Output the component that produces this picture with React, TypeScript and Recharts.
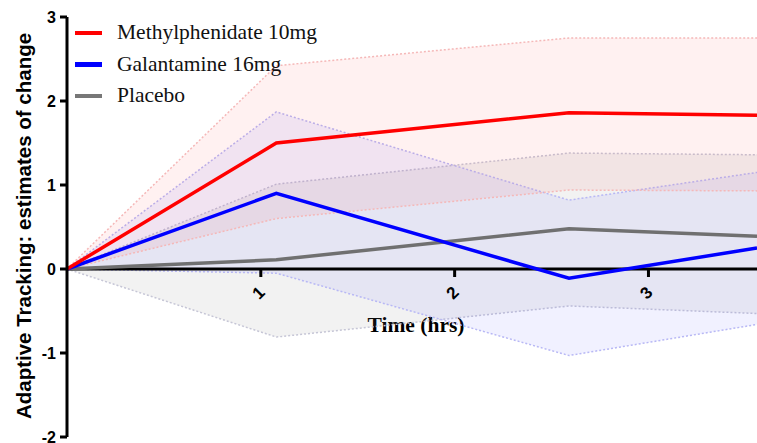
import React from "react";
import { ComposedChart, Line, Area, XAxis, YAxis, ReferenceLine, ReferenceDot } from "recharts";

const times = [0, 1.08, 2.59, 3.56];

const mphMean = [0, 1.5, 1.86, 1.83];
const mphLow = [0, 0.6, 0.94, 0.93];
const mphHigh = [0, 2.42, 2.75, 2.75];

const galMean = [0, 0.9, -0.11, 0.25];
const galLow = [0, -0.05, -1.03, -0.66];
const galHigh = [0, 1.87, 0.82, 1.15];

const plaMean = [0, 0.11, 0.48, 0.39];
const plaLow = [0, -0.81, -0.44, -0.53];
const plaHigh = [0, 1.01, 1.38, 1.36];

const xTicks = [1, 2, 3];
const yTicks = [-2, -1, 0, 1, 2, 3];

const legendItems = [
  { name: "Methylphenidate 10mg", color: "#ff0000" },
  { name: "Galantamine 16mg", color: "#0000ff" },
  { name: "Placebo", color: "#777777" },
];

const data = times.map((t, i) => ({
  time: t,
  mph: mphMean[i],
  mphBand: [mphLow[i], mphHigh[i]],
  gal: galMean[i],
  galBand: [galLow[i], galHigh[i]],
  pla: plaMean[i],
  plaBand: [plaLow[i], plaHigh[i]],
}));

const sans = "'Liberation Sans', Arial, sans-serif";
const serif = "'Liberation Serif', 'Times New Roman', serif";

const XTick = ({ cx, cy, label }: any) => {
  if (cx == null || cy == null) return null;
  return (
    <g>
      <line x1={cx} y1={cy} x2={cx} y2={cy + 8} stroke="#000" strokeWidth={3} />
      <text
        x={cx - 2}
        y={cy + 24}
        transform={`rotate(-45, ${cx - 2}, ${cy + 24})`}
        textAnchor="middle"
        dominantBaseline="central"
        fontFamily={sans}
        fontWeight="bold"
        fontSize={17}
        fill="#000"
      >
        {label}
      </text>
    </g>
  );
};

const LegendBox = () => (
  <div style={{ position: "absolute", left: 75, top: 17, fontFamily: serif, fontSize: 21.5, color: "#111" }}>
    {legendItems.map((it) => (
      <div key={it.name} style={{ display: "flex", alignItems: "center", height: 31.5 }}>
        <span style={{ display: "inline-block", width: 27, height: 4.5, background: it.color, marginRight: 15 }} />
        <span>{it.name}</span>
      </div>
    ))}
  </div>
);

export default function App() {
  return (
    <div style={{ position: "absolute", left: 0, top: 0, width: 757, height: 443, background: "#fff" }}>
      <ComposedChart width={757} height={443} data={data} margin={{ top: 17, right: 0, bottom: 6, left: 0 }}>
        <XAxis type="number" dataKey="time" domain={[0, 3.56]} hide />
        <YAxis
          type="number"
          domain={[-2, 3]}
          ticks={yTicks}
          interval={0}
          width={67}
          axisLine={{ stroke: "#000", strokeWidth: 3 }}
          tickLine={{ stroke: "#000", strokeWidth: 3 }}
          tickSize={7}
          tickMargin={4}
          tick={{ fill: "#000", fontFamily: sans, fontWeight: "bold", fontSize: 16 }}
        />
        <Area
          type="linear"
          dataKey="plaBand"
          fill="#808080"
          fillOpacity={0.1}
          stroke="#c6c6d6"
          strokeDasharray="2 2"
          strokeWidth={1.5}
          isAnimationActive={false}
        />
        <Area
          type="linear"
          dataKey="galBand"
          fill="#5050ff"
          fillOpacity={0.08}
          stroke="#b8b8f5"
          strokeDasharray="2 2"
          strokeWidth={1.5}
          isAnimationActive={false}
        />
        <Area
          type="linear"
          dataKey="mphBand"
          fill="#ff0000"
          fillOpacity={0.055}
          stroke="#f5b8b8"
          strokeDasharray="2 2"
          strokeWidth={1.5}
          isAnimationActive={false}
        />
        <ReferenceLine y={0} stroke="#000" strokeWidth={3} />
        {xTicks.map((t) => (
          <ReferenceDot key={t} x={t} y={0} shape={(p: any) => <XTick {...p} label={t} />} />
        ))}
        <Line type="linear" dataKey="pla" stroke="#707070" strokeWidth={3.5} dot={false} isAnimationActive={false} />
        <Line type="linear" dataKey="gal" stroke="#0000ff" strokeWidth={3.5} dot={false} isAnimationActive={false} />
        <Line type="linear" dataKey="mph" stroke="#ff0000" strokeWidth={3.5} dot={false} isAnimationActive={false} />
        <text x={416} y={332} textAnchor="middle" fontFamily={serif} fontWeight="bold" fontSize={21.5} fill="#000">
          Time (hrs)
        </text>
        <text
          x={23}
          y={226}
          transform="rotate(-90, 23, 226)"
          textAnchor="middle"
          dominantBaseline="central"
          fontFamily={sans}
          fontWeight="bold"
          fontSize={20.5}
          fill="#000"
        >
          Adaptive Tracking: estimates of change
        </text>
      </ComposedChart>
      <LegendBox />
    </div>
  );
}
